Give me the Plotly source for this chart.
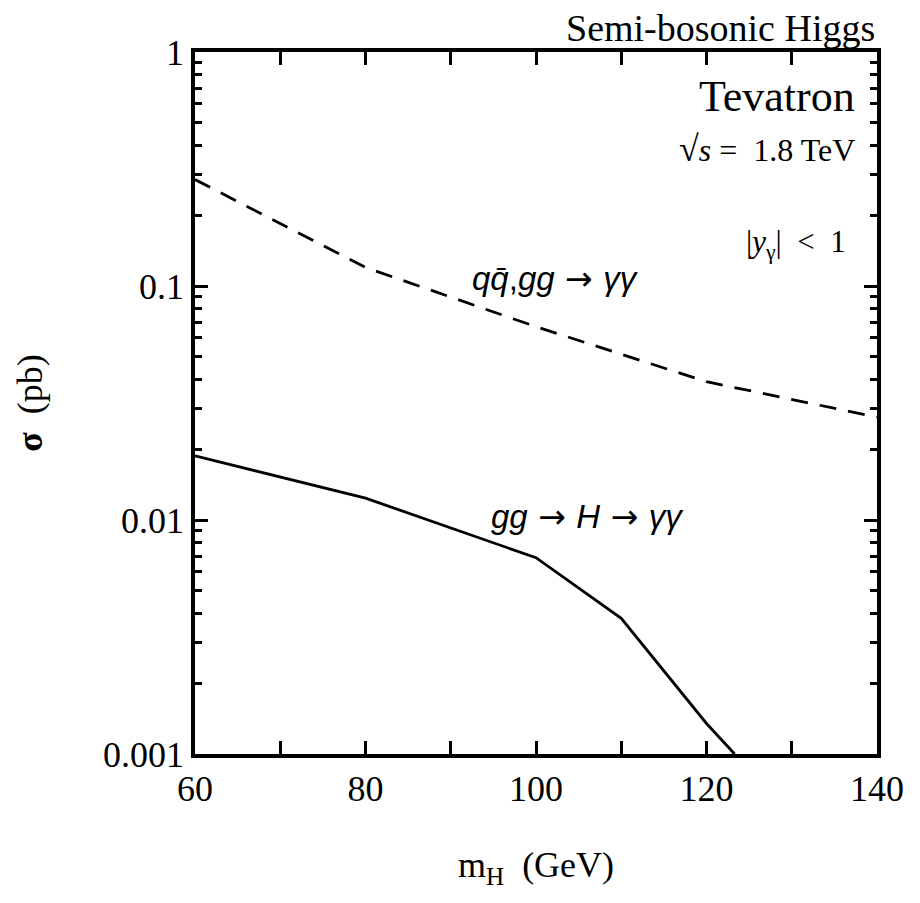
import plotly.graph_objects as go

# Data
mass_bg = [60, 80, 100, 120, 140]
sigma_bg = [0.285, 0.12, 0.067, 0.039, 0.0275]          # qq̄,gg -> γγ (dashed)
mass_sig = [60, 80, 100, 110, 120, 123.3]
sigma_sig = [0.0188, 0.0124, 0.0069, 0.0038, 0.00135, 0.001]  # gg -> H -> γγ (solid)

x_ticks = [60, 80, 100, 120, 140]
y_ticks = [0.001, 0.01, 0.1, 1]
y_ticktext = ["0.001", "0.01", "0.1", "1"]
y_minor = [m * d for d in (0.001, 0.01, 0.1) for m in range(2, 10)]

SERIF = "Liberation Serif, Times New Roman, serif"
SANS = "Liberation Sans, Arial, sans-serif"
ARROW = "<span style='font-family:DejaVu Sans'> → </span>"

fig = go.Figure()
fig.add_trace(go.Scatter(x=mass_bg, y=sigma_bg, mode="lines",
                         line=dict(color="black", width=2.8, dash="17px,12px"),
                         showlegend=False))
fig.add_trace(go.Scatter(x=mass_sig, y=sigma_sig, mode="lines",
                         line=dict(color="black", width=2.8),
                         showlegend=False))

fig.update_layout(
    width=920, height=903,
    margin=dict(l=195, r=43, t=52, b=149),
    paper_bgcolor="white", plot_bgcolor="white",
    font=dict(family=SERIF, color="black", size=34),
    xaxis=dict(range=[60, 140], tickvals=x_ticks, ticks="inside", ticklen=13, tickwidth=2.5,
               tickcolor="black", showline=True, linewidth=3.5, linecolor="black",
               mirror="allticks", showgrid=False, zeroline=False,
               tickfont=dict(family=SERIF, size=36),
               minor=dict(tickvals=[70, 90, 110, 130], ticks="inside", ticklen=13,
                          tickwidth=2.5, tickcolor="black", showgrid=False),
               title=dict(text="m<sub>H</sub>  (GeV)", font=dict(family=SERIF, size=36),
                          standoff=45)),
    yaxis=dict(type="log", range=[-3, 0], tickvals=y_ticks, ticktext=y_ticktext,
               ticks="inside", ticklen=13, tickwidth=2.5, tickcolor="black",
               showline=True, linewidth=3.5, linecolor="black", mirror="allticks",
               showgrid=False, zeroline=False,
               tickfont=dict(family=SERIF, size=36),
               minor=dict(tickvals=y_minor, ticks="inside", ticklen=7, tickwidth=2.5,
                          tickcolor="black", showgrid=False),
               title=dict(text="<b>σ</b>  (pb)", font=dict(family=SERIF, size=36),
                          standoff=50)),
)

annotations = [
    dict(x=1.0, y=1.0, xref="paper", yref="paper", xanchor="right", yanchor="bottom",
         yshift=1, text="Semi-bosonic Higgs", font=dict(family=SERIF, size=38)),
    dict(x=0.97, y=0.937, xref="paper", yref="paper", xanchor="right", yanchor="middle",
         text="Tevatron", font=dict(family=SERIF, size=44)),
    dict(x=0.97, y=0.862, xref="paper", yref="paper", xanchor="right", yanchor="middle",
         text="<span style='font-size:36px'>√</span><i>s</i> =  1.8 TeV",
         font=dict(family=SERIF, size=32)),
    dict(x=0.958, y=0.726, xref="paper", yref="paper", xanchor="right", yanchor="middle",
         text="|<i>y</i><sub>γ</sub>|  <  1", font=dict(family=SERIF, size=31)),
    dict(x=0.528, y=0.677, xref="paper", yref="paper", xanchor="center", yanchor="middle",
         text="<i>q</i><i>q̄</i>,<i>gg</i>" + ARROW + "<i>γγ</i>",
         font=dict(family=SANS, size=33)),
    dict(x=0.575, y=0.338, xref="paper", yref="paper", xanchor="center", yanchor="middle",
         text="<i>gg</i>" + ARROW + "<i>H</i>" + ARROW + "<i>γγ</i>",
         font=dict(family=SANS, size=33)),
]
for a in annotations:
    a["showarrow"] = False
fig.update_layout(annotations=annotations)

fig.write_html("out.html")
